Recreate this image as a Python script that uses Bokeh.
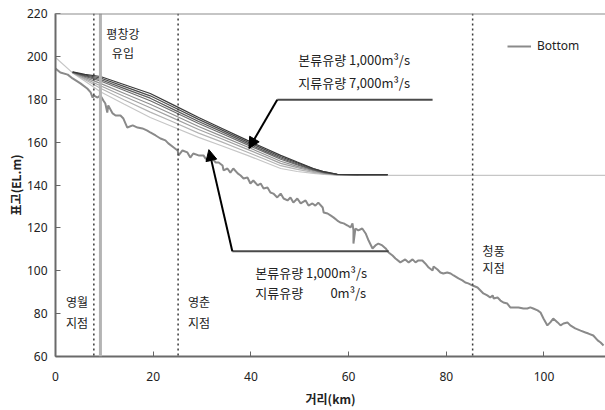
from bokeh.plotting import figure
from bokeh.models import (Range1d, Span, Label, Arrow, NormalHead, Legend,
                          LegendItem, FixedTicker)
from bokeh.embed import file_html
from bokeh.resources import INLINE

nan = float("nan")

# ---- riverbed (Bottom) profile: distance (km), elevation (EL.m)
bottom_km = [0, 1.0, 2.5, 3.5, 5.1, 6.5, 7.2, 7.6, 7.8, 8.6,
             9.2, 9.8, 10.2, 10.6, 10.8, 11.7, 12.3, 13.3, 13.9, 14.7,
             15.8, 16.8, 17.8, 18.8, 19.4, 20.5, 21.5, 22.5, 23.1, 24.2,
             25.0, 25.2, 26.0, 27.0, 27.6, 28.2, 29.3, 30.3, 30.7, 31.3,
             32.1, 32.8, 33.4, 34.2, 34.4, 35.2, 35.8, 36.4, 37.3, 37.9,
             38.5, 39.3, 39.9, 40.5, 41.4, 42.0, 42.6, 43.4, 44.0, 44.6,
             45.4, 46.1, 46.7, 47.5, 48.1, 48.7, 49.5, 50.2, 51.2, 51.8,
             52.6, 53.2, 53.8, 54.7, 54.9, 55.7, 56.3, 56.9, 57.7, 58.3,
             59.0, 59.8, 60.4, 60.8, 61.0, 61.0, 61.4, 62.0, 62.8, 63.5,
             64.1, 64.9, 65.5, 66.1, 66.9, 67.6, 68.2, 69.0, 69.6, 70.6,
             71.6, 72.3, 73.1, 73.7, 74.3, 75.1, 75.7, 76.4, 77.2, 77.4,
             78.2, 78.8, 79.4, 80.2, 80.9, 81.5, 82.5, 83.3, 83.9, 84.5,
             85.4, 86.4, 87.0, 87.6, 88.4, 89.0, 89.5, 89.7, 90.5, 91.1,
             91.7, 92.5, 93.1, 93.8, 94.8, 95.8, 96.6, 97.2, 97.8, 98.7,
             99.3, 99.9, 100.7, 101.3, 101.9, 102.8, 103.4, 104.0, 104.8, 105.4,
             106.4, 107.5, 108.5, 109.1, 110.1, 111.0, 111.6, 112.2]
bottom_el = [194.3, 192.5, 191.5, 189.7, 187.4, 185.0, 183.2, 180.8, 181.8, 180.8,
             181.8, 179.4, 178.0, 173.8, 177.1, 173.4, 172.4, 172.4, 171.0, 166.8,
             167.8, 166.8, 166.4, 165.4, 164.5, 163.1, 161.7, 160.8, 159.4, 157.5,
             156.1, 153.8, 156.1, 155.2, 152.8, 154.7, 153.8, 153.8, 152.4, 151.4,
             152.4, 150.5, 150.5, 149.1, 146.8, 147.7, 145.8, 147.7, 145.4, 144.4,
             143.0, 143.5, 140.7, 142.1, 139.8, 140.7, 138.4, 138.8, 136.5, 136.0,
             134.2, 136.0, 133.7, 132.8, 134.2, 131.8, 133.7, 131.4, 132.8, 130.4,
             131.4, 130.4, 131.8, 129.5, 127.2, 126.7, 125.8, 124.9, 123.4, 122.5,
             122.1, 121.1, 120.2, 122.1, 118.8, 112.7, 119.7, 118.8, 119.7, 117.4,
             114.1, 110.4, 111.8, 112.7, 111.8, 110.4, 108.5, 107.1, 105.7, 103.9,
             105.3, 103.9, 105.3, 103.9, 104.8, 104.8, 103.4, 101.5, 100.1, 102.0,
             100.6, 99.2, 98.7, 99.2, 98.7, 97.8, 96.4, 95.5, 94.5, 94.1,
             93.1, 92.2, 90.8, 89.4, 88.5, 87.5, 88.5, 87.1, 87.5, 86.1,
             85.2, 84.7, 82.9, 82.9, 82.9, 82.4, 82.4, 82.9, 82.4, 81.5,
             80.5, 77.7, 74.5, 75.9, 77.7, 75.9, 74.5, 75.4, 75.9, 74.5,
             73.1, 72.1, 71.2, 70.7, 69.8, 67.5, 66.5, 65.1]

# ---- water surface profiles (tributary discharge 0 ... 7,000 m3/s)
ws_km = [0, 3.5, 6, 9.2, 14, 19.4, 24, 29.3, 34, 39.3, 43, 46.1, 49.5, 52.8, 55, 57.7, 62, 68, 112.6]
ws_0000 = [199.5, 192.3, 188.5, 183.5, 177.8, 171.5, 167.2, 162.2, 158.3, 153.8, 150.5, 147.7, 146.3, 145.4, 144.9, 144.6, 144.5, 144.5, 144.5]
ws_1000 = [nan, 192.4, 189.2, 185.1, 179.8, 174.0, 169.5, 164.2, 160.1, 155.3, 151.9, 149.0, 147.3, 145.9, 145.2, 144.7, 144.6, nan, nan]
ws_2000 = [nan, 192.4, 189.7, 186.3, 181.4, 176.0, 171.3, 165.9, 161.6, 156.6, 153.1, 150.1, 148.1, 146.3, 145.4, 144.7, 144.6, nan, nan]
ws_3000 = [nan, 192.5, 190.2, 187.4, 182.8, 177.7, 172.9, 167.3, 162.8, 157.7, 154.1, 151.1, 148.7, 146.7, 145.6, 144.8, 144.7, nan, nan]
ws_4000 = [nan, 192.5, 190.7, 188.5, 184.2, 179.3, 174.4, 168.7, 164.0, 158.7, 155.1, 152.0, 149.4, 147.0, 145.8, 144.9, 144.7, 144.7, nan]
ws_5000 = [nan, 192.6, 191.0, 189.2, 185.1, 180.5, 175.4, 169.6, 164.9, 159.4, 155.7, 152.6, 149.8, 147.2, 145.9, 144.9, 144.8, 144.8, nan]
ws_6000 = [nan, 192.7, 191.3, 189.9, 186.0, 181.6, 176.5, 170.6, 165.7, 160.1, 156.4, 153.2, 150.3, 147.5, 146.1, 145.0, 144.8, 144.8, nan]
ws_7000 = [nan, 192.8, 191.6, 190.6, 186.9, 182.7, 177.5, 171.5, 166.5, 160.8, 157.0, 153.8, 150.7, 147.7, 146.2, 145.0, 144.8, 144.8, nan]
ws_series = [ws_0000, ws_1000, ws_2000, ws_3000, ws_4000, ws_5000, ws_6000, ws_7000]
ws_colors = ["#c6c6c6", "#b4b4b4", "#a2a2a2", "#909090", "#6e6e6e", "#5c5c5c", "#4a4a4a", "#383838"]

# ---- reference stations (km)
station_km = [7.85, 25.1, 85.4]
station_names = [["영월", "지점"], ["영춘", "지점"], ["청풍", "지점"]]
station_label_km = [4.4, 29.4, 89.7]
station_label_el = [[85.7, 76.0], [85.7, 76.0], [109.5, 101.7]]
inflow_km = 9.2

# ---- call-outs (horizontal leader then arrow to the profile)
callout1_x = [77.2, 45.4, 39.6]
callout1_y = [179.8, 179.8, 157.0]
callout2_x = [68.2, 36.2, 31.4]
callout2_y = [109.1, 109.1, 156.5]

x_ticks = [0, 20, 40, 60, 80, 100]
y_ticks = [60, 80, 100, 120, 140, 160, 180, 200, 220]

KR = "Noto Sans CJK KR"
LAT = "Noto Sans"

p = figure(width=605, height=410, x_range=Range1d(0, 112.6), y_range=Range1d(60, 220),
           output_backend="svg", toolbar_location=None,
           min_border_left=55, min_border_right=0, min_border_top=13, min_border_bottom=54)
p.outline_line_color = None
p.grid.visible = False
p.background_fill_color = "white"
p.border_fill_color = "white"

# verticals
for s in station_km:
    p.add_layout(Span(location=s, dimension="height", line_color="#3a3a3a",
                      line_dash="2 3", line_width=1.5))
p.add_layout(Span(location=inflow_km, dimension="height", line_color="#b4b4b4", line_width=3))
p.add_layout(Span(location=220, dimension="width", line_color="#8c8c8c", line_width=2))

# water surfaces
for ys, c in zip(ws_series, ws_colors):
    p.line(ws_km, ys, line_color=c, line_width=1.2)

# riverbed
bot = p.line(bottom_km, bottom_el, line_color="#8a8a8a", line_width=2)

# call-outs
for cx, cy in ((callout1_x, callout1_y), (callout2_x, callout2_y)):
    p.line(cx[:2], cy[:2], line_color="#4a4a4a", line_width=2)
    p.add_layout(Arrow(end=NormalHead(size=11, fill_color="black", line_color="black"),
                       x_start=cx[1], y_start=cy[1], x_end=cx[2], y_end=cy[2],
                       line_color="black", line_width=2))

def lab(x, y, t, align="left", size="13px"):
    p.add_layout(Label(x=x, y=y, text=t, text_font=KR, text_font_size=size,
                       text_align=align, text_baseline="middle", text_color="#222222"))

lab(49.7, 198.4, "본류유량 1,000m³/s")
lab(49.7, 187.7, "지류유량 7,000m³/s")
lab(40.9, 99.2, "본류유량 1,000m³/s")
lab(40.9, 89.9, "지류유량")
lab(63.6, 89.9, "0m³/s", align="right")

lab(13.8, 210.5, "평창강", align="center", size="12px")
lab(13.8, 201.6, "유입", align="center", size="12px")
for lx, ly, names in zip(station_label_km, station_label_el, station_names):
    lab(lx, ly[0], names[0], align="center", size="12px")
    lab(lx, ly[1], names[1], align="center", size="12px")

# axes
for ax in (p.xaxis, p.yaxis):
    ax.major_tick_in = 5
    ax.major_tick_out = 0
    ax.minor_tick_line_color = None
    ax.major_tick_line_color = "#666666"
    ax.axis_line_color = "#6a6a6a"
    ax.axis_line_width = 2
    ax.major_label_text_font = LAT
    ax.major_label_text_font_size = "12px"
    ax.major_label_text_color = "#222222"
    ax.axis_label_text_font = KR
    ax.axis_label_text_font_size = "12px"
    ax.axis_label_text_font_style = "bold"
    ax.axis_label_text_color = "#222222"
p.xaxis.ticker = FixedTicker(ticks=x_ticks)
p.yaxis.ticker = FixedTicker(ticks=y_ticks)
p.xaxis.axis_label = "거리(km)"
p.yaxis.axis_label = "표고(EL.m)"
p.xaxis.major_label_standoff = 15
p.xaxis.axis_label_standoff = 6
p.yaxis.major_label_standoff = 8
p.yaxis.axis_label_standoff = 0

legend = Legend(items=[LegendItem(label="Bottom", renderers=[bot])],
                location=(452, 302), border_line_color=None, background_fill_alpha=0,
                padding=0, margin=0, glyph_width=24, glyph_height=14, label_height=14,
                label_standoff=6, label_text_font=LAT, label_text_font_size="12px",
                label_text_color="#222222")
p.add_layout(legend)

open("out.html", "w").write(file_html(p, INLINE))
